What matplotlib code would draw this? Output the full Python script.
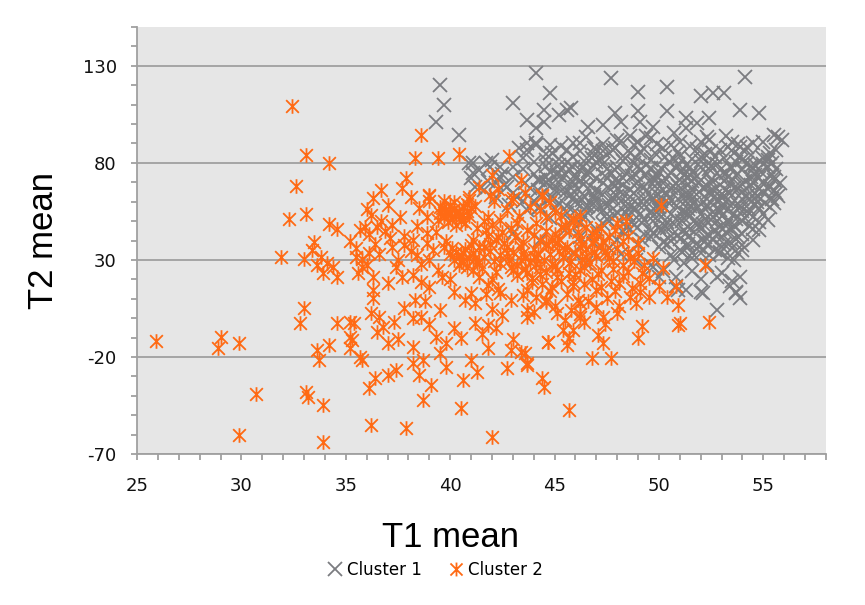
import matplotlib
matplotlib.use("Agg")
import matplotlib.pyplot as plt
from matplotlib.path import Path
from matplotlib.lines import Line2D
from matplotlib.ticker import MultipleLocator

plt.rcParams["axes.unicode_minus"] = False

# ---------------- data (T1 mean, T2 mean) ----------------
cluster1_points = [
    # outliers / sparse
    (44.1,126.2),(47.7,123.6),(54.1,124.2),(39.5,120.2),(39.7,109.9),(44.8,115.9),(49.0,116.3),
    (50.4,119.0),(43.0,110.8),(39.3,101.3),(40.4,94.4),(43.7,102.2),(44.5,107.3),(44.5,101.3),
    (44.1,97.9),(45.6,107.3),(45.8,108.2),(45.2,104.7),(47.9,105.6),(49.0,106.5),(49.1,101.3),
    (50.4,106.5),(52.0,114.2),(52.6,115.9),(53.1,115.9),(53.9,107.3),(54.8,105.6),(52.4,103.0),
    (55.5,94.4),(55.9,91.9),(55.3,85.0),(46.6,98.7),(47.3,99.6),(48.2,101.3),(51.3,103.0),(51.3,97.9),
    (40.9,79.8),(41.7,79.8),(41.1,74.7),(41.2,67.8),(42.2,69.5),(42.4,78.1),(43.3,87.6),(43.7,90.1),
    (44.1,89.3),(44.8,89.3),(44.9,85.0),(45.6,86.7),(46.2,90.1),(46.9,87.6),(47.3,85.9),(48.0,91.9),
    (48.6,93.6),(49.4,93.6),(49.7,98.7),(50.7,95.3),(51.8,100.5),(52.4,91.9),(53.2,93.6),(53.9,88.4),
    (54.5,90.1),(55.2,81.5),(55.5,72.9),(55.6,64.4),(55.5,59.2),(55.2,50.6),(54.8,45.5),(54.5,40.3),
    (54.0,35.2),(53.6,30.0),(53.9,21.4),(53.7,12.8),(53.4,16.3),(52.8,21.4),(52.8,4.2),(52.1,12.8),
    (51.3,14.5),(50.8,16.3),(50.0,21.4),(49.7,26.6),(50.7,30.0),(51.6,33.5),(52.9,33.5),
    (53.7,13.5),(53.9,10.4),(50.9,14.5),(52.0,13.5),(55.7,93.4),
    (41.1,79.8),(41.4,76.4),(41.9,78.1),(42.4,72.9),(41.6,66.1),(42.2,62.6),(42.7,67.8),(43.2,62.6),
    (43.7,86.7),(44.1,90.1),(44.6,81.5),(45.1,74.7),(45.9,90.1),(46.2,76.4),(44.3,71.2),(43.7,55.8),
    (44.3,57.5),(44.9,62.6),(45.6,54.0),(46.2,48.9),(46.5,57.5),(43.0,43.7),(44.3,40.3),(45.9,33.4),
    (46.5,28.3),
    (41.0,72.0),(41.8,70.5),(42.5,74.5),(43.0,78.0),(43.5,82.5),(42.0,81.5),(42.8,58.5),(43.5,60.5),
    (44.2,56.5),(44.8,51.5),(45.5,45.5),(46.2,42.0),(46.9,38.5),(47.6,36.0),(48.2,33.0),(48.9,30.0),
    (49.6,27.5),(50.2,24.5),(50.8,21.0),(49.0,37.5),(48.0,40.5),(47.0,46.0),(45.8,50.0),
    # core
    (46.5,93.1),(48.2,91.2),(49.6,92.6),(51.0,90.8),(52.3,93.5),(53.5,91.0),
    (45.3,88.6),(47.0,87.2),(48.8,89.0),(50.2,87.5),(51.5,88.9),(52.9,86.8),(54.2,88.3),
    (44.6,84.5),(45.9,83.2),(47.6,84.9),(48.9,82.7),(49.8,85.3),(51.0,83.6),(52.2,84.8),(53.1,82.5),
    (54.4,84.0),(55.2,83.0),
    (44.0,80.6),(45.2,79.1),(46.4,81.0),(47.3,79.5),(48.3,80.8),(49.4,78.9),(50.5,80.3),(51.3,79.0),
    (52.0,81.2),(52.8,79.4),(53.7,80.7),(54.6,78.8),(55.4,80.1),
    (43.5,76.8),(44.8,75.2),(45.7,77.0),(46.6,75.6),(47.5,76.9),(48.4,74.8),(49.1,76.4),(50.0,75.1),
    (50.8,77.3),(51.6,75.5),(52.4,76.8),(53.2,74.9),(54.0,76.5),(54.9,75.3),(55.6,77.0),
    (43.0,72.5),(44.2,71.0),(45.4,72.8),(46.2,70.9),(47.0,72.2),(47.9,71.4),(48.7,73.0),(49.5,70.7),
    (50.3,72.4),(51.0,71.1),(51.8,73.1),(52.5,71.3),(53.3,72.7),(54.1,70.8),(54.8,72.3),(55.5,71.2),
    (42.6,68.4),(43.8,67.1),(44.9,68.9),(45.8,66.8),(46.7,68.3),(47.6,67.0),(48.3,68.8),(49.0,66.6),
    (49.8,68.2),(50.6,67.3),(51.4,69.0),(52.1,66.9),(52.9,68.5),(53.6,67.2),(54.4,68.7),(55.2,66.5),
    (43.0,64.6),(44.3,63.2),(45.5,64.9),(46.4,62.8),(47.2,64.3),(48.0,63.0),(48.8,64.7),(49.6,62.9),
    (50.4,64.1),(51.2,63.4),(51.9,65.0),(52.7,62.7),(53.4,64.4),(54.2,63.1),(55.0,64.8),(55.7,63.0),
    (44.0,60.5),(45.2,59.2),(46.3,60.8),(47.4,58.9),(48.2,60.3),(49.0,59.0),(49.7,61.0),(50.5,59.4),
    (51.3,60.6),(52.0,58.8),(52.8,60.2),(53.5,59.1),(54.3,60.9),(55.1,59.3),
    (45.0,56.4),(46.0,55.1),(47.1,56.9),(48.0,54.8),(48.9,56.3),(49.6,55.0),(50.3,56.7),(51.1,55.2),
    (51.8,56.8),(52.6,54.9),(53.3,56.2),(54.0,55.0),(54.8,56.6),
    (46.4,52.6),(47.5,51.2),(48.5,52.9),(49.3,50.8),(50.1,52.3),(50.8,51.0),(51.5,52.8),(52.2,51.1),
    (53.0,52.5),(53.7,50.9),(54.5,52.2),
    (47.3,48.4),(48.4,47.1),(49.2,48.8),(50.0,46.9),(50.7,48.3),(51.4,47.0),(52.1,48.7),(52.9,46.8),
    (53.6,48.2),(54.3,47.3),
    (48.3,44.5),(49.3,43.1),(50.1,44.8),(50.9,42.9),(51.7,44.2),(52.4,43.0),(53.2,44.6),(54.0,43.2),
    (49.2,40.4),(50.2,39.1),(51.0,40.8),(51.8,38.9),(52.6,40.2),(53.4,39.3),
    (50.0,36.5),(51.0,35.2),(51.9,36.8),(52.7,35.0),(53.5,36.3),
    (50.6,32.4),(51.6,31.1),(52.4,32.7),(53.3,31.0),
    (51.2,28.5),(52.3,27.2),(51.6,24.3),(53.0,23.1),(52.0,20.4),(53.5,19.2),
    (49.4,74.0),(50.2,69.5),(50.9,65.5),(51.6,61.5),(52.3,57.5),(53.0,62.0),(52.6,66.0),(51.9,70.0),
    (51.2,74.0),(52.0,78.0),(53.1,70.5),(53.8,66.5),(50.5,61.8),(49.9,57.8),(51.4,53.6),(52.8,50.0),
    (48.6,66.2),(48.1,70.2),(47.8,62.0),(53.9,58.0),(54.6,62.0),(54.5,70.0),(53.5,77.5),(50.7,82.0),
    (49.1,85.8),(47.2,81.8),(46.0,73.8),(45.0,66.0),(46.8,58.5),(44.6,70.0),
    # core, third layer
    (47.3,89.8),(49.0,91.0),(50.6,89.2),(52.0,90.6),(53.8,89.5),(55.0,90.5),
    (46.2,86.0),(47.8,86.5),(49.3,87.3),(50.9,85.8),(52.5,86.3),(53.6,85.2),(55.6,86.8),
    (45.2,82.0),(46.8,82.6),(48.3,83.4),(49.6,81.6),(51.6,82.0),(52.7,83.0),(54.0,81.5),(55.0,82.6),
    (44.6,78.5),(45.9,78.0),(46.9,78.6),(48.0,77.9),(49.0,78.3),(50.1,77.5),(51.5,78.0),(52.5,78.5),
    (53.4,77.8),(54.4,78.2),(55.2,77.8),
    (44.0,74.2),(45.1,73.6),(46.6,74.0),(47.7,74.6),(48.9,73.5),(49.9,73.2),(50.6,74.6),(51.5,73.5),
    (52.3,74.3),(53.7,73.6),(54.6,74.0),(55.4,73.8),
    (43.6,69.8),(44.6,69.4),(45.9,70.0),(47.3,69.6),(48.9,69.4),(49.8,70.4),(50.8,69.5),(51.6,70.5),
    (52.5,69.2),(53.4,69.8),(54.0,69.3),(55.0,70.2),(55.8,69.6),
    (44.2,66.0),(45.3,65.6),(46.1,66.4),(47.0,65.9),(48.0,66.5),(49.4,65.4),(50.2,65.9),(51.6,65.8),
    (52.4,64.9),(53.2,66.2),(54.0,65.2),(54.8,66.3),(55.5,65.7),
    (44.8,62.0),(45.9,61.8),(46.9,62.4),(47.7,61.2),(48.6,62.2),(49.3,61.4),(50.1,62.3),(50.9,61.5),
    (51.5,63.0),(52.3,61.6),(53.1,62.8),(54.0,61.6),(54.7,62.8),(55.4,61.5),
    (45.6,58.0),(46.6,57.6),(47.6,58.2),(48.6,57.6),(49.3,58.3),(50.0,57.5),(50.8,58.0),(51.5,57.8),
    (52.3,58.5),(53.0,57.7),(53.8,58.6),(54.6,58.2),(55.3,57.5),
    (46.6,54.3),(47.5,53.8),(48.4,54.2),(49.1,53.6),(49.9,54.5),(50.6,53.5),(51.3,54.4),(52.0,53.8),
    (52.9,54.6),(53.6,53.4),(54.3,54.4),(55.0,53.6),
    (47.6,50.0),(48.7,49.6),(49.7,50.2),(50.4,49.6),(51.1,50.3),(51.8,49.5),(52.5,50.4),(53.3,49.6),
    (54.0,50.1),(54.8,49.4),
    (48.6,46.0),(49.6,45.6),(50.4,46.2),(51.2,45.5),(52.0,46.1),(52.7,45.5),(53.5,46.0),(54.5,45.8),
    (49.6,41.8),(50.6,42.2),(51.4,41.6),(52.2,42.0),(53.0,41.7),(53.8,42.0),
    (50.4,38.0),(51.4,38.3),(52.3,37.8),(53.1,38.2),(54.0,37.8),
    (51.1,34.2),(52.0,33.8),(52.9,34.1),(53.8,33.6),
    # core, fourth layer
    (47.9,87.9),(49.9,89.6),(51.8,86.9),(53.3,88.1),(46.9,84.0),(48.6,85.1),(50.3,83.1),(52.0,83.0),
    (53.9,83.3),(45.6,80.3),(47.0,80.4),(48.8,79.7),(50.9,79.6),(52.4,80.1),(54.2,80.0),(55.0,79.3),
    (45.3,76.2),(46.3,77.8),(47.9,76.3),(49.6,77.1),(51.1,76.0),(52.9,76.1),(54.5,76.7),(44.6,72.8),
    (46.0,72.1),(47.4,73.2),(48.3,72.2),(49.8,71.8),(51.4,72.0),(52.9,73.3),(54.4,72.5),(45.2,69.6),
    (46.4,69.2),(47.9,68.6),(49.3,67.8),(50.9,68.1),(52.3,68.0),(53.9,68.0),(55.3,68.2),(45.8,63.8),
    (46.9,63.6),(48.3,64.0),(49.9,63.8),(51.5,64.4),(53.0,64.1),(54.6,64.3),(46.0,59.6),(47.0,60.2),
    (48.5,59.0),(50.1,60.4),(51.7,59.5),(53.2,60.6),(54.7,59.7),(47.3,55.7),(48.5,56.0),(50.0,55.6),
    (51.4,56.0),(52.9,55.8),(54.3,56.3),(47.9,52.4),(49.7,52.4),(51.2,51.8),(52.6,52.3),(54.1,51.7),
    (48.8,47.9),(50.3,47.6),(51.8,47.8),(53.2,47.4),(49.7,43.7),(51.3,43.7),(52.8,43.5),(50.6,40.0),
    (52.2,39.8),(53.7,40.8),(51.4,36.6),(53.0,36.8),
]

cluster2_points = [
    (32.4,109.5),(33.1,83.8),(34.2,79.8),(32.6,68.1),(32.3,51.0),(33.1,53.6),(34.2,48.4),(34.6,45.8),
    (31.9,31.7),(33.0,30.4),(33.5,39.4),(33.4,35.2),(33.8,31.7),(33.6,27.4),(34.1,28.3),(33.9,23.1),
    (34.4,26.5),(34.6,21.4),(33.0,5.1),(32.8,-2.6),(34.6,-2.6),(35.4,-2.6),(35.2,-9.5),(35.2,-15.5),
    (34.2,-13.8),(25.9,-11.6),(29.0,-9.5),(28.9,-15.5),(29.9,-12.6),(33.6,-16.4),(33.7,-21.5),
    (30.7,-39.1),(33.1,-37.9),(33.2,-40.5),(33.9,-44.7),(29.9,-60.2),(33.9,-63.7),(35.7,45.5),
    (35.6,23.3),(35.7,-19.8),
    (38.6,94.4),(38.3,82.4),(39.4,82.4),(40.4,84.5),(42.8,83.6),(37.9,72.1),(36.7,66.1),(36.3,61.8),
    (37.7,66.9),(38.1,62.6),(39.0,63.5),(39.7,60.1),(40.0,54.9),(40.4,53.2),(39.7,53.2),(40.9,62.6),
    (36.2,53.2),(35.9,47.2),(36.5,47.2),(37.1,41.2),(37.8,37.7),(38.2,40.3),(38.9,52.3),(38.9,38.6),
    (36.1,33.4),(35.8,26.6),(36.3,21.4),(37.4,26.6),(37.7,21.4),(38.6,18.8),(39.4,24.8),(39.7,36.9),
    (40.5,29.1),(40.6,33.4),(41.1,24.8),(41.8,17.1),(42.4,12.8),(41.4,21.4),(36.3,10.2),(36.2,2.5),
    (36.6,0.8),(37.3,-1.8),(35.2,-1.8),(35.3,-11.2),(36.5,-7.0),(37.0,-13.0),(38.3,9.4),(38.2,-0.1),
    (38.6,0.8),(39.3,-9.5),(39.8,-13.0),(40.2,-5.2),(40.7,9.4),(41.0,12.8),(41.2,-2.7),(41.8,-3.5),
    (42.5,1.6),(41.8,-15.5),(42.9,-16.4),(43.4,-17.3),(43.7,-24.1),(42.7,-25.9),(41.3,-27.6),
    (41.0,-21.6),(40.6,-31.9),(39.8,-25.0),(38.7,-21.6),(38.2,-23.3),(38.5,-29.3),(39.1,-34.4),
    (38.7,-42.2),(37.4,-26.7),(37.0,-29.3),(36.4,-31.0),(36.1,-36.2),(35.8,-21.6),(36.2,-55.1),
    (37.9,-56.8),(40.5,-46.5),(42.0,-61.1),(45.7,-47.3),(44.4,-31.0),(44.5,-35.3),(44.7,-12.1),
    (45.6,-13.8),(45.9,-6.1),(44.6,9.4),(43.7,4.2),(42.9,9.4),(43.9,18.8),(44.9,16.2),(46.2,7.7),
    (45.9,18.8),(46.2,0.8),
    (42.0,73.8),(43.4,71.2),(43.0,61.8),(44.4,63.5),(42.1,60.1),(41.8,52.3),(42.4,50.6),(43.2,48.9),
    (43.7,45.5),(44.6,52.3),(45.3,47.2),(45.9,50.6),(46.2,40.3),(45.1,38.6),(44.1,31.7),(43.5,33.4),
    (42.7,36.9),(42.2,40.3),(41.6,36.9),(41.4,29.1),(42.4,28.3),(43.0,24.8),(43.7,23.1),(44.3,26.6),
    (45.1,24.8),(45.7,28.3),(46.5,31.7),
    (50.1,58.4),(44.4,62.7),(44.3,55.8),(45.3,53.2),(46.2,52.4),(47.2,46.3),(48.0,48.9),(48.4,49.8),
    (46.8,38.6),(47.4,34.3),(48.5,34.3),(49.3,27.4),(49.7,30.9),(50.2,25.7),(52.2,27.4),(50.8,16.3),
    (50.4,11.1),(50.9,6.8),(49.5,11.1),(48.6,11.1),(47.7,18.9),(47.0,14.6),(46.1,9.4),(45.1,2.5),
    (44.6,8.5),(43.7,14.6),(43.7,0.8),(52.4,-1.8),(50.9,-3.5),(49.2,-4.3),(49.0,-10.4),(47.1,-8.6),
    (47.3,-12.9),(47.7,-20.7),(46.8,-20.7),(45.7,-10.4),(44.7,-12.1),(43.6,-18.1),(43.7,-23.2),
    (45.4,-6.1),(46.4,-1.8),(47.3,0.8),(48.1,6.0),(48.9,7.7),(50.0,16.3),(48.1,18.0),(49.1,18.0),
    (44.9,40.3),(44.0,31.7),(45.4,31.7),(46.2,24.9),(45.1,21.4),(47.2,24.9),(45.9,16.3),(51.0,-2.5),
    (41.4,67.8),(42.9,61.0),(39.0,62.7),(39.5,57.5),(40.3,54.1),(40.9,60.9),
    (39.6,57.0),(39.8,55.5),(40.0,58.2),(40.2,56.4),(40.4,54.8),(40.6,57.6),(40.8,55.2),(39.7,52.0),
    (40.1,51.2),(40.5,50.3),(40.9,52.6),(39.9,49.5),(40.3,48.2),(40.7,49.0),(40.0,53.6),(40.6,53.0),
    (39.5,54.0),(41.0,56.6),(40.2,60.0),(40.8,59.0),
    (40.1,36.0),(40.3,34.2),(40.5,32.5),(40.7,35.6),(40.9,30.8),(41.1,33.5),(41.3,28.5),(40.2,30.2),
    (40.4,27.6),(40.8,26.5),(41.4,36.5),(40.0,32.8),(41.0,37.8),(40.6,29.4),(41.2,31.2),
    (41.6,31.5),(41.9,34.8),(42.1,29.5),(42.4,32.6),(42.6,38.5),(42.8,30.2),(43.0,34.0),(43.2,27.5),
    (43.4,36.4),(43.6,31.0),(43.8,29.0),(44.0,35.6),(44.2,33.2),(44.5,30.0),(44.7,37.5),(44.9,28.0),
    (45.2,34.5),(45.4,31.6),(45.6,36.8),(45.8,29.5),(46.0,33.8),(46.3,30.6),(46.5,35.5),(46.7,28.6),
    (47.0,32.0),(47.2,37.0),(46.9,40.5),(47.5,33.0),(47.8,29.2),(48.0,36.0),(44.3,40.0),(43.1,41.8),
    (42.5,44.5),(41.8,42.5),(45.0,43.5),(46.1,44.6),(47.6,42.0),(48.3,40.0),(48.6,31.0),(49.0,33.5),
    (43.2,22.0),(43.9,20.5),(44.4,17.5),(44.8,14.0),(45.3,19.0),(45.6,12.5),(46.0,22.8),(46.4,17.8),
    (46.8,20.2),(47.2,16.0),(47.5,10.5),(47.9,14.2),(48.3,21.5),(48.7,15.5),(49.1,13.5),(49.5,20.5),
    (44.1,11.0),(45.0,6.5),(45.8,4.0),(46.6,9.0),(47.0,5.5),(42.3,15.0),(42.0,20.0),(43.5,11.8),
    (44.6,23.8),(46.2,2.0),(48.0,2.5),(47.4,-3.0),(45.5,-1.0),(44.0,3.0),
    (35.2,40.0),(35.5,36.0),(35.8,30.5),(36.1,43.5),(36.4,38.0),(36.6,33.0),(36.9,45.0),(37.2,36.5),
    (37.5,30.0),(37.8,42.5),(38.1,34.5),(38.4,47.5),(38.6,28.0),(38.9,44.0),(39.2,35.0),(39.4,50.5),
    (36.0,56.0),(37.0,58.5),(38.5,56.5),(39.0,60.5),(37.6,52.0),(36.7,50.0),(38.2,22.0),(37.0,18.0),
    (39.0,16.0),(39.6,21.0),(36.3,14.5),(38.8,9.0),(37.8,5.0),(39.5,4.0),(36.8,-4.5),(39.0,-3.0),
    (37.5,-10.5),(38.2,-15.0),(39.5,-18.0),(40.5,-10.0),(41.5,-8.0),(42.2,-5.0),(43.0,-10.5),
    (42.0,4.5),(41.2,8.0),(40.2,13.5),(40.0,20.0),(41.7,12.5),
    (41.3,46.5),(41.6,50.0),(42.0,48.0),(42.7,55.5),(43.3,52.5),(43.8,57.5),(44.1,49.0),(44.6,45.0),
    (45.0,54.5),(45.5,48.0),(46.0,50.5),(46.5,47.0),(47.0,44.5),(41.2,58.0),(41.9,63.5),(42.3,66.5),
    (43.6,64.5),(44.8,60.0),
    (41.1,40.5),(41.7,45.5),(42.3,42.0),(42.9,46.5),(43.5,39.0),(44.0,43.0),(44.6,38.0),(45.2,41.0),
    (45.7,45.0),(46.3,38.2),(46.8,43.5),(47.3,39.5),(47.9,45.5),(48.5,42.5),(49.0,38.5),(41.5,26.0),
    (42.2,24.0),(42.9,26.5),(43.6,25.5),(44.3,22.5),(45.0,27.0),(45.7,23.0),(46.4,26.5),(47.1,22.5),
    (47.8,25.5),(48.5,24.0),(49.2,23.5),(41.9,38.0),(42.7,33.5),(43.4,30.0),(44.1,28.0),(44.8,32.8),
    (45.5,35.5),(46.2,36.5),(46.9,34.0),(47.6,31.0),(48.3,27.5),(48.8,29.5),(39.8,40.0),(39.3,44.5),
    (39.0,30.0),(38.4,32.5),(37.2,48.0),(36.0,27.5),(35.5,31.5),
]

series_names = ["Cluster 1", "Cluster 2"]
x_label = "T1 mean"
y_label = "T2 mean"

c1_t1 = [p[0] for p in cluster1_points]
c1_t2 = [p[1] for p in cluster1_points]
c2_t1 = [p[0] for p in cluster2_points]
c2_t2 = [p[1] for p in cluster2_points]

# ---------------- style ----------------
GRAY = "#7b7c80"
ORANGE = "#ff6a14"
AXIS = "#a0a0a0"

star_path = Path(
    [(-1, -1), (1, 1), (-1, 1), (1, -1), (0, -1.15), (0, 1.15)],
    [Path.MOVETO, Path.LINETO, Path.MOVETO, Path.LINETO, Path.MOVETO, Path.LINETO],
)

fig = plt.figure(figsize=(8.65, 6.05), dpi=100)
ax = fig.add_axes([137 / 865, 1 - 454 / 605, 689 / 865, 427 / 605])
ax.set_facecolor("#e6e6e6")

ax.plot(c1_t1, c1_t2, linestyle="none", marker="x", ms=10, mew=1.3, color=GRAY)
ax.plot(c2_t1, c2_t2, linestyle="none", marker=star_path, ms=10.5, mew=1.3, color=ORANGE)

ax.set_xlim(25, 58)
ax.set_ylim(-70, 150)
ax.xaxis.set_major_locator(MultipleLocator(5))
ax.xaxis.set_minor_locator(MultipleLocator(1))
ax.set_yticks([-70, -20, 30, 80, 130])
ax.yaxis.set_minor_locator(MultipleLocator(10))

for s in ["top", "right"]:
    ax.spines[s].set_visible(False)
for s in ["left", "bottom"]:
    ax.spines[s].set_color(AXIS)
    ax.spines[s].set_linewidth(1.3)

ax.grid(axis="y", which="major", color=AXIS, linewidth=1.3)
ax.set_axisbelow(True)

ax.tick_params(axis="both", which="both", direction="out", color=AXIS, width=1.3, length=4.5)
ax.tick_params(axis="x", which="major", pad=12, labelsize=13, labelcolor="#111111")
ax.tick_params(axis="y", which="major", pad=10, labelsize=13, labelcolor="#111111")
for lab in ax.get_xticklabels() + ax.get_yticklabels():
    lab.set_fontfamily("DejaVu Sans")

ax.set_xlabel(x_label, fontsize=25, fontfamily="Liberation Sans", color="#000000")
ax.set_ylabel(y_label, fontsize=25, fontfamily="Liberation Sans", color="#000000")
ax.xaxis.set_label_coords((450 - 137) / 689, (454 - 521) / 427)
ax.yaxis.set_label_coords((60 - 137) / 689, 0.5)

handles = [
    Line2D([], [], linestyle="none", marker="x", ms=9.5, mew=1.3, color=GRAY),
    Line2D([], [], linestyle="none", marker=star_path, ms=10, mew=1.3, color=ORANGE),
]
fig.legend(handles, series_names, loc="center", bbox_to_anchor=(0.503, 1 - 570 / 605),
           ncol=2, frameon=False, handlelength=0.9, handletextpad=0.25, columnspacing=1.6,
           prop={"family": "DejaVu Sans", "size": 12})

fig.savefig("out.png", dpi=100, facecolor="white")
